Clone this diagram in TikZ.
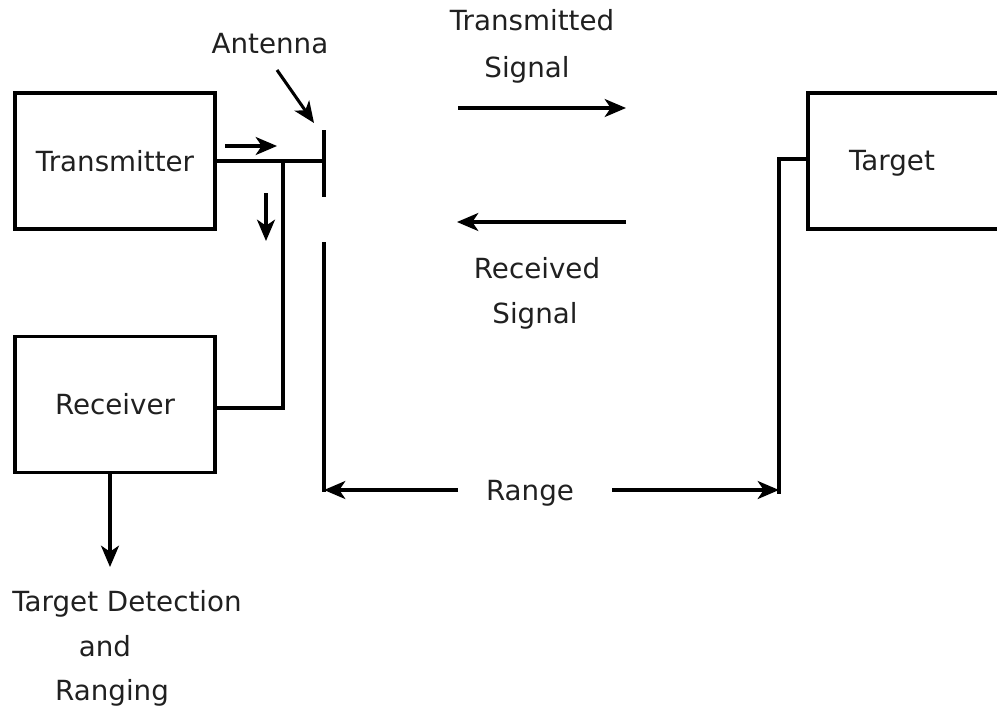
\documentclass[tikz,border=0pt]{standalone}
\usepackage{fontspec}
\setmainfont{DejaVu Sans}
\usetikzlibrary{arrows.meta}
\definecolor{txt}{HTML}{202020}
\begin{document}
\begin{tikzpicture}[x=0.75pt,y=-0.75pt,
  line width=2.3pt, line cap=butt,
  box/.style={draw, line width=2.3pt, minimum width=150pt, minimum height=102pt, inner sep=0pt,
    font=\fontsize{20.8}{25}\selectfont, text=txt, text height=15.2pt, text depth=0pt},
  lbl/.style={font=\fontsize{20.8}{25}\selectfont, text=txt, inner sep=0pt, text height=15.2pt, text depth=0pt},
  arr/.style={-{Stealth[length=16pt,width=13.5pt,inset=4.5pt]}}
]
\useasboundingbox (0,0) rectangle (997,708);
\clip (0,0) rectangle (997,708);
% boxes
\node[box] (tx) at (115,161) {Transmitter};
\node[box] (rx) at (115,404.5) {Receiver};
\node[lbl] (tg) at (892,160) {Target};
\coordinate (tgtl) at (808,93);
\coordinate (tgbl) at (808,229);
\draw (1010,93) -- (tgtl) -- (tgbl) -- (1010,229);
% antenna
\coordinate (a1) at (324,130);
\coordinate (a2) at (324,197);
\coordinate (a3) at (324,242);
\coordinate (a4) at (324,492);
\draw (a1) -- (a2);
\draw (a3) -- (a4);
% feed
\coordinate (feed) at (324,161);
\coordinate (j1) at (283,161);
\coordinate (j2) at (283,408);
\draw (tx.east) -- (feed);
\draw (j1) -- (j2) -- (rx.east |- j2);
% small arrows
\coordinate (s1) at (225,146);
\coordinate (s2) at (277,146);
\draw[arr] (s1) -- (s2);
\coordinate (d1) at (266,193);
\coordinate (d2) at (266,241);
\draw[arr] (d1) -- (d2);
% antenna label
\node[lbl] (ant) at (270,43) {Antenna};
\coordinate (p1) at (277,70);
\coordinate (p2) at (314,123);
\draw[arr] (p1) -- (p2);
% signals
\node[lbl] (ts1) at (532,20) {Transmitted};
\node[lbl] (ts2) at (527,67) {Signal};
\coordinate (t1) at (458,108);
\coordinate (t2) at (626,108);
\draw[arr] (t1) -- (t2);
\coordinate (r1) at (626,222);
\coordinate (r2) at (457,222);
\draw[arr] (r1) -- (r2);
\node[lbl] (rs1) at (537,268) {Received};
\node[lbl] (rs2) at (535,313) {Signal};
% target connector
\coordinate (tc1) at (779,159);
\coordinate (tc2) at (779,494);
\draw (tgtl |- tc1) -- (tc1) -- (tc2);
% range
\node[lbl] (rg) at (530,490) {Range};
\coordinate (rl) at (458,490);
\coordinate (rr) at (612,490);
\draw[arr] (rl) -- (a4 |- rl);
\draw[arr] (rr) -- (tc2 |- rr);
% output
\coordinate (o2) at (110,567);
\draw[arr] (rx.south -| o2) -- (o2);
\node[lbl] (td1) at (127,601) {Target Detection};
\node[lbl] (td2) at (105,646) {and};
\node[lbl] (td3) at (112,690) {Ranging};
\end{tikzpicture}
\end{document}
